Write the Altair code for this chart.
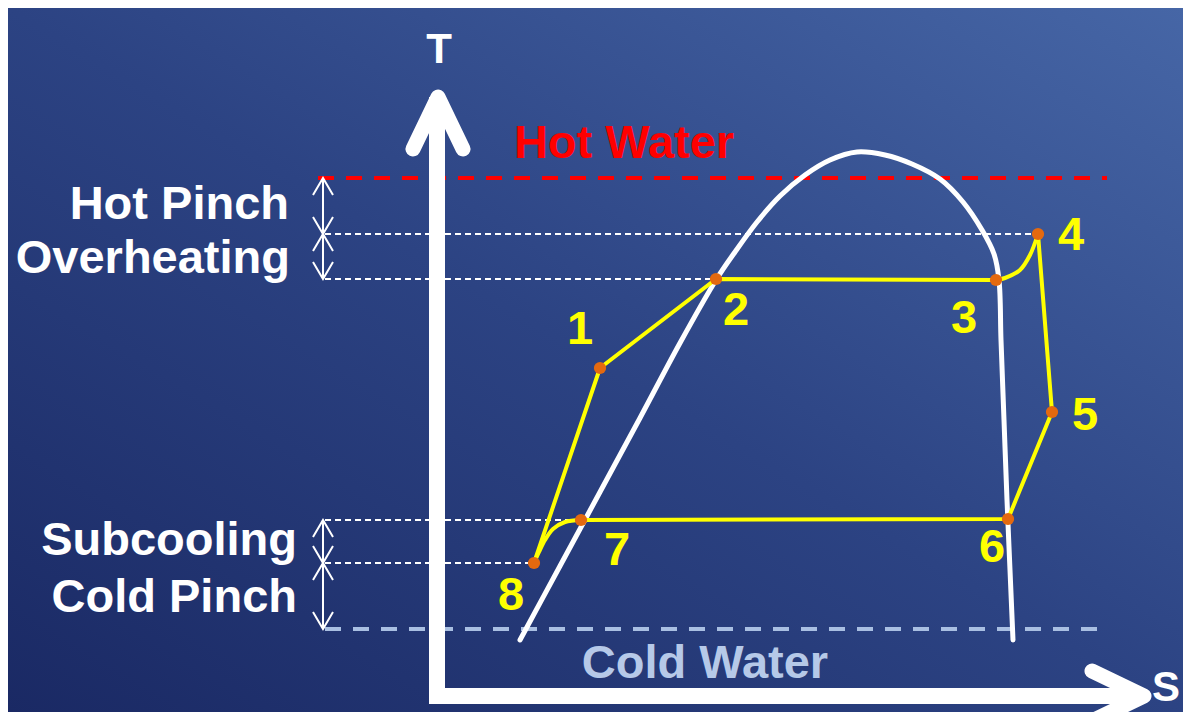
import altair as alt
import pandas as pd

# ---------------- data (screen-like coordinates of the diagram) ----------------
# saturation dome
dome_x = [520, 560, 600, 640, 680, 716, 735, 757, 780, 805, 830, 857, 885, 912,
          940, 963, 982, 994, 999, 1001, 1004, 1007, 1010, 1013]
dome_y = [640, 566, 492, 418, 343, 280, 252, 222, 196, 175, 160, 152, 155, 164,
          179, 202, 230, 254, 280, 340, 420, 500, 570, 640]

# cycle state points 1..8
pt_label = ["1", "2", "3", "4", "5", "6", "7", "8"]
pt_x = [600, 716, 996, 1038, 1052, 1008, 581, 534]
pt_y = [368, 279, 280, 234, 412, 519, 520, 563]
lab_x = [580, 736, 964, 1071, 1085, 992, 617, 511]
lab_y = [344, 325, 333, 250, 430, 562, 565, 610]

# straight cycle legs (8-1-2-3, 4-5-6-7)
leg_a = [8, 1, 2, 3]
leg_b = [4, 5, 6, 7]
# curved legs 3->4 and 7->8
curve34_x = [996, 1005, 1020, 1030, 1038]
curve34_y = [280, 278, 270, 255, 234]
curve78_x = [581, 565, 553, 545, 539, 534]
curve78_y = [520, 522, 529, 540, 552, 563]

# temperature levels
hot_water_y = 178
cold_water_y = 629
guide_y = [234, 279, 520, 563]
guide_x_end = [1038, 716, 581, 534]
pinch_top = [178, 234, 520, 563]
pinch_bot = [234, 279, 563, 629]

left_text = ["Hot Pinch", "Overheating", "Subcooling", "Cold Pinch"]
left_text_x = [289, 290, 297, 297]
left_text_y = [219, 273, 555, 612]

# ---------------- helpers ----------------
W, H = 1175, 704
xs = alt.Scale(domain=[8, 8 + W], nice=False, zero=False)
ys = alt.Scale(domain=[8, 8 + H], nice=False, zero=False, reverse=True)
X = lambda f="x": alt.X(f"{f}:Q", scale=xs, axis=None)
Y = lambda f="y": alt.Y(f"{f}:Q", scale=ys, axis=None)


def seg_df(segs):
    rows = []
    for i, pts in enumerate(segs):
        for j, (x, y) in enumerate(pts):
            rows.append({"seg": i, "o": j, "x": x, "y": y})
    return pd.DataFrame(rows)


def poly(df, **kw):
    return alt.Chart(df).mark_line(**kw).encode(
        x=X(), y=Y(), detail="seg:N", order="o:Q")


# background
bg = alt.Chart(pd.DataFrame({"a": [0]})).mark_rect(
    color=alt.Gradient(
        gradient="linear",
        stops=[alt.GradientStop(color="#1a2964", offset=0),
               alt.GradientStop(color="#2c4383", offset=0.5),
               alt.GradientStop(color="#4666a6", offset=1)],
        x1=0, y1=1, x2=1, y2=0)
).encode(x=alt.value(0), x2=alt.value(W), y=alt.value(0), y2=alt.value(H))

# axes arrows
axes_df = seg_df([
    [(437, 704), (437, 97)],
    [(429, 696), (1144, 696)],
])
heads_df = seg_df([
    [(413, 149), (438, 97), (463, 149)],
    [(1092, 671), (1144, 696), (1092, 721)],
])
axes = poly(axes_df, color="white", strokeWidth=16, strokeCap="butt")
heads = poly(heads_df, color="white", strokeWidth=15, strokeCap="round", strokeJoin="round")

# hot / cold water dashed lines
lvl = pd.DataFrame({"x": [318, 325], "x2": [1107, 1100], "y": [hot_water_y, cold_water_y],
                    "k": ["hot", "cold"]})
lvl_lines = alt.Chart(lvl).mark_rule(strokeWidth=4, strokeDash=[16, 12]).encode(
    x=X(), x2="x2:Q", y=Y(),
    color=alt.Color("k:N", scale=alt.Scale(domain=["hot", "cold"], range=["#ff0000", "#a9bfe2"]),
                    legend=None))

# thin white guide lines
gd = pd.DataFrame({"x": [325] * 4, "x2": guide_x_end, "y": guide_y})
guides = alt.Chart(gd).mark_rule(color="white", strokeWidth=2, strokeDash=[6, 4]).encode(
    x=X(), x2="x2:Q", y=Y())

# double-headed arrows
ax = 323
segs = []
for t, b in zip(pinch_top, pinch_bot):
    segs.append([(ax, t), (ax, b)])
    segs.append([(ax - 10, t + 17), (ax, t), (ax + 10, t + 17)])
    segs.append([(ax - 10, b - 17), (ax, b), (ax + 10, b - 17)])
darrows = poly(seg_df(segs), color="white", strokeWidth=2, strokeJoin="miter")

# saturation dome
dome_df = pd.DataFrame({"x": dome_x, "y": dome_y, "o": range(len(dome_x)), "seg": 0})
dome = poly(dome_df, color="white", strokeWidth=5, interpolate="catmull-rom", strokeCap="round")

# cycle
idx = {l: i for i, l in enumerate(pt_label)}
legs = [[(pt_x[idx[str(n)]], pt_y[idx[str(n)]]) for n in leg_a],
        [(pt_x[idx[str(n)]], pt_y[idx[str(n)]]) for n in leg_b]]
straight = poly(seg_df(legs), color="#ffff00", strokeWidth=4, strokeJoin="round")
curves = poly(seg_df([list(zip(curve34_x, curve34_y)), list(zip(curve78_x, curve78_y))]),
              color="#ffff00", strokeWidth=4, interpolate="catmull-rom")

pts_df = pd.DataFrame({"x": pt_x, "y": pt_y})
dots = alt.Chart(pts_df).mark_circle(size=150, color="#e4690f", opacity=1).encode(x=X(), y=Y())

num_df = pd.DataFrame({"x": lab_x, "y": lab_y, "t": pt_label})
nums = alt.Chart(num_df).mark_text(font="Liberation Sans", fontWeight="bold", fontSize=47,
                                   color="#ffff00", align="center", baseline="alphabetic").encode(
    x=X(), y=Y(), text="t:N")

lt_df = pd.DataFrame({"x": left_text_x, "y": left_text_y, "t": left_text})
ltxt = alt.Chart(lt_df).mark_text(font="Liberation Sans", fontWeight="bold", fontSize=47,
                                  color="white", align="right", baseline="alphabetic").encode(
    x=X(), y=Y(), text="t:N")

water_df = pd.DataFrame({"x": [624, 705], "y": [158, 678], "t": ["Hot Water", "Cold Water"]})
wtxt = alt.Chart(water_df).mark_text(font="Liberation Sans", fontWeight="bold", fontSize=47,
                                     align="center", baseline="alphabetic").encode(
    x=X(), y=Y(), text="t:N",
    color=alt.Color("t:N", scale=alt.Scale(domain=["Hot Water", "Cold Water"],
                                           range=["#ff0000", "#b6c9e8"]), legend=None))

axis_df = pd.DataFrame({"x": [439, 1166], "y": [63, 701], "t": ["T", "S"]})
atxt = alt.Chart(axis_df).mark_text(font="Liberation Sans", fontWeight="bold", fontSize=42,
                                    color="white", align="center", baseline="alphabetic").encode(
    x=X(), y=Y(), text="t:N")

chart = alt.layer(
    bg, lvl_lines, guides, darrows, dome, straight, curves, axes, heads, dots,
    nums, ltxt, wtxt, atxt
).resolve_scale(color="independent").properties(
    width=W, height=H, padding=0, autosize=alt.AutoSizeParams(type="none"),
    background="#2a4080"
).configure_view(stroke=None)

chart.save("out.html", embed_options={"renderer": "svg", "actions": False})
